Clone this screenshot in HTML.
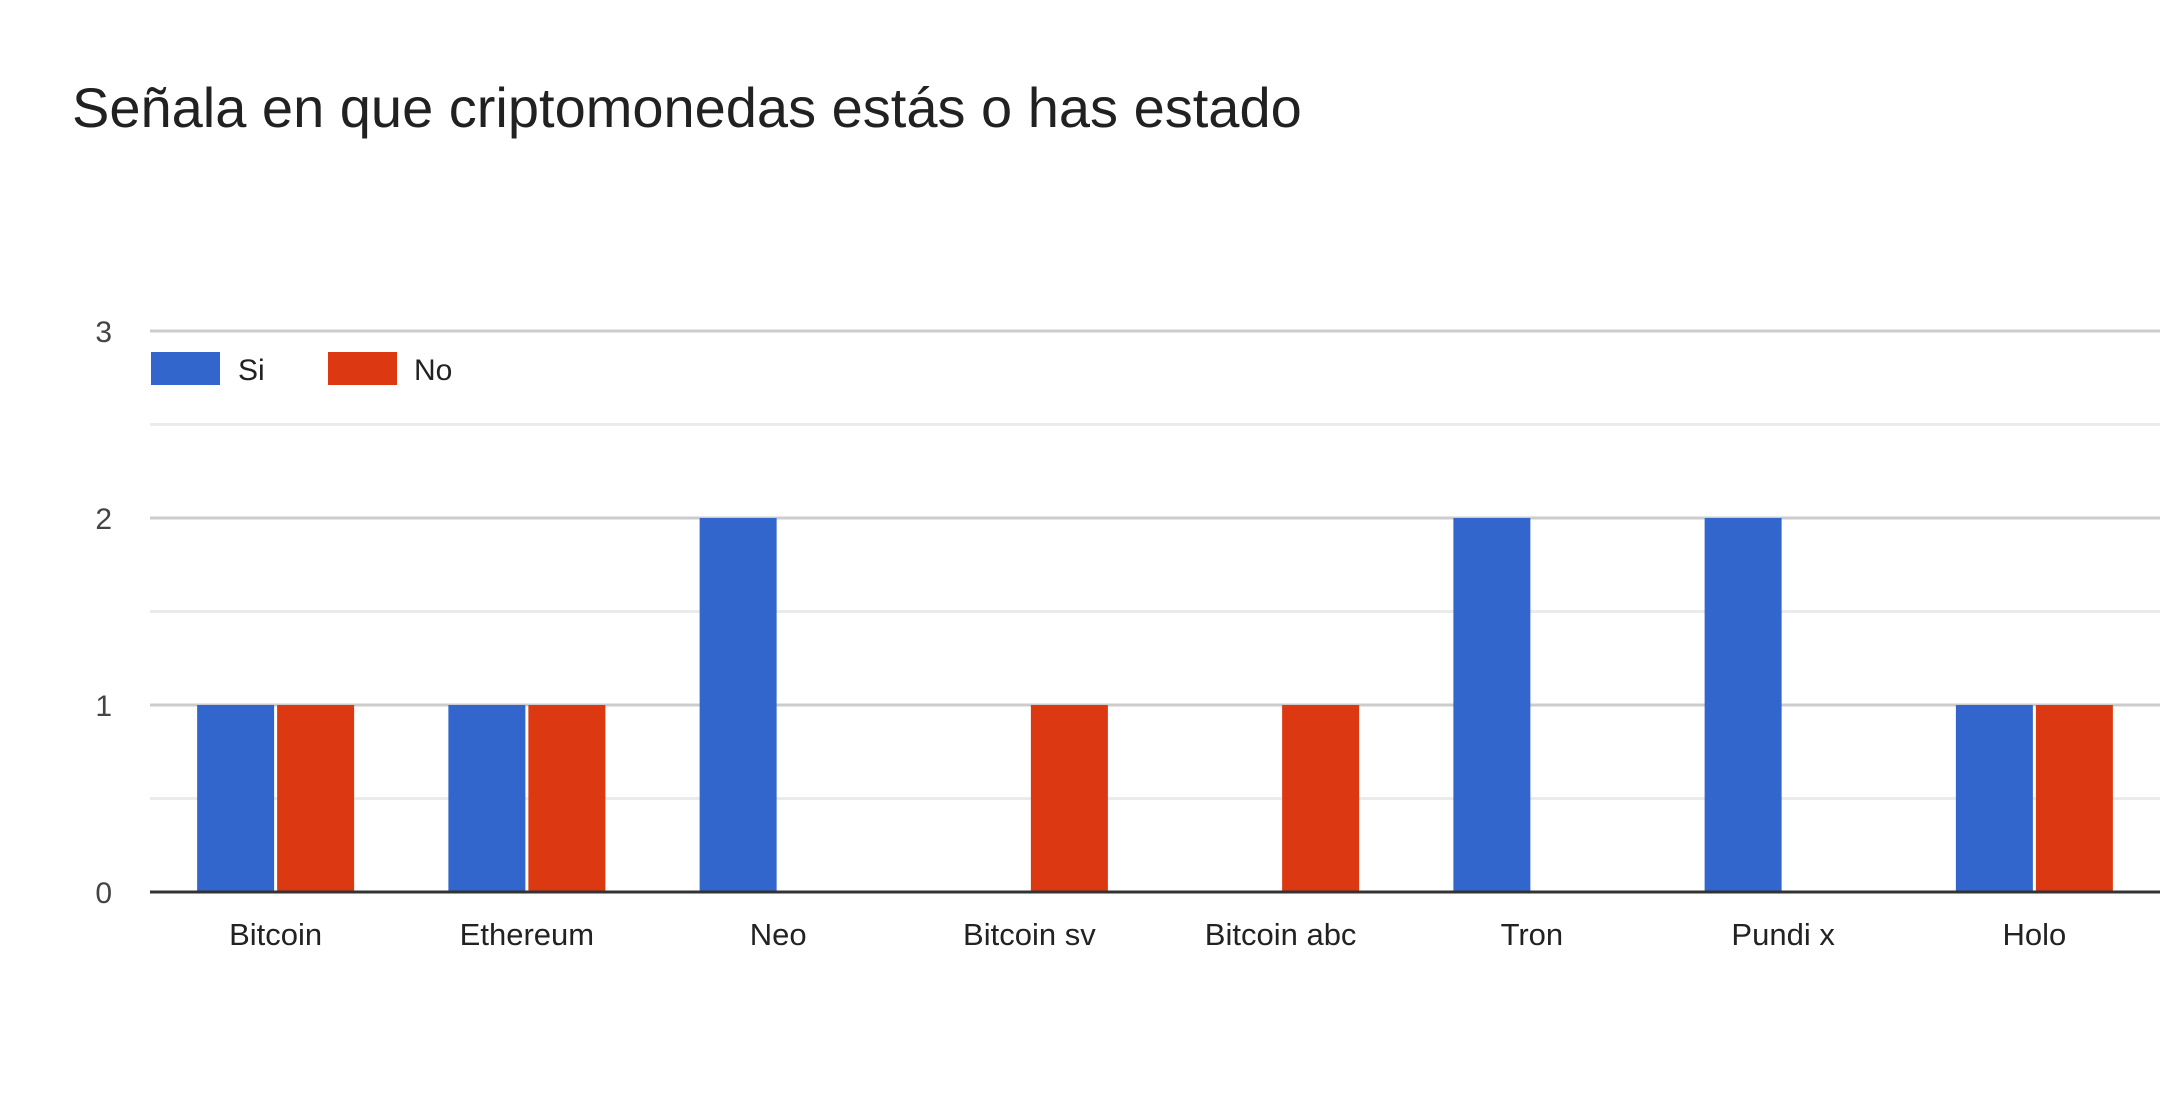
<!DOCTYPE html>
<html><head><meta charset="utf-8"><style>
body{margin:0;background:#fff;width:2160px;height:1113px;overflow:hidden;font-family:"Liberation Sans",sans-serif}
</style></head><body>
<svg width="2160" height="1113">
<text x="72" y="127" font-size="56" fill="#212121">Señala en que criptomonedas estás o has estado</text>
<g id="grid"></g><g id="bars"></g><g id="labels"></g>
<g>
<rect x="151" y="352" width="69" height="33" fill="#3366cc"/>
<text x="238" y="380" font-size="30" fill="#222">Si</text>
<rect x="328" y="352" width="69" height="33" fill="#dc3912"/>
<text x="414" y="380" font-size="30" fill="#222">No</text>
</g>
</svg>
<script>
const categories=["Bitcoin","Ethereum","Neo","Bitcoin sv","Bitcoin abc","Tron","Pundi x","Holo"];
const siValues=[1,1,2,0,0,2,2,1];
const noValues=[1,1,0,1,1,0,0,1];
const yTicks=[0,1,2,3];
const NS="http://www.w3.org/2000/svg";
const left=150,right=2160,y0=892,y3=331,maxV=3;
const y=v=>y0-(y0-y3)*v/maxV;
const band=(right-left)/categories.length;
const xc=i=>left+band*(i+0.5);
function mk(t,a,p){const e=document.createElementNS(NS,t);for(const k in a)e.setAttribute(k,a[k]);p.appendChild(e);return e;}
const g=document.getElementById('grid'),b=document.getElementById('bars'),l=document.getElementById('labels');
for(let v=0;v<maxV;v+=0.5){if(v%1){const ln=mk('line',{x1:left,x2:right,y1:y(v),y2:y(v),stroke:'#ebebeb','stroke-width':3},g);

}}
yTicks.forEach(v=>{
if(v>0){const ln=mk('line',{x1:left,x2:right,y1:y(v),y2:y(v),stroke:'#cccccc','stroke-width':3},g);

}
const t=mk('text',{x:112,y:y(v)+11,'font-size':30,fill:'#444','text-anchor':'end'},l);t.textContent=v;


});
const bw=77,gap=3;
categories.forEach((c,i)=>{
const cx=xc(i);
if(siValues[i]>0){const r=mk('rect',{x:cx-bw-gap/2,y:y(siValues[i]),width:bw,height:y0-y(siValues[i]),fill:'#3366cc'},b);

}
if(noValues[i]>0){const r=mk('rect',{x:cx+gap/2,y:y(noValues[i]),width:bw,height:y0-y(noValues[i]),fill:'#dc3912'},b);

}
const t=mk('text',{x:cx,y:945,'font-size':31,fill:'#222','text-anchor':'middle'},l);t.textContent=c;


});
const ax=mk('line',{x1:left,x2:right,y1:y0,y2:y0,stroke:'#333','stroke-width':3},l);


</script>
</body></html>
